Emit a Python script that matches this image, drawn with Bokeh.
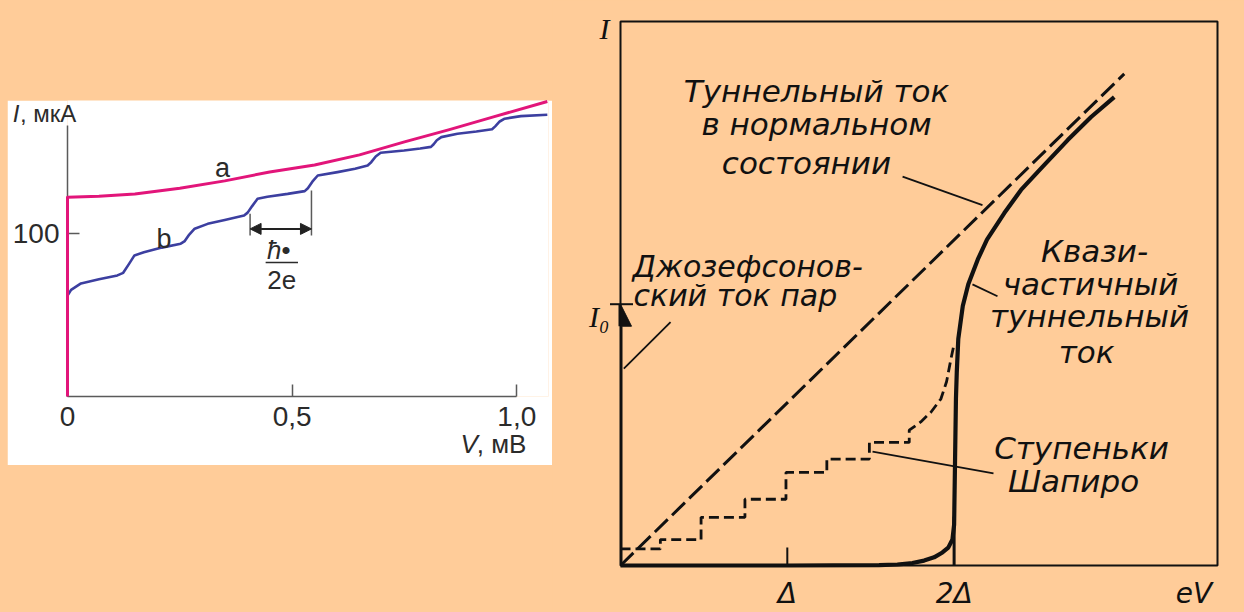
from bokeh.plotting import figure
from bokeh.layouts import row, column
from bokeh.models import (Spacer, Arrow, NormalHead, FixedTicker,
                          GlobalInlineStyleSheet, Range1d)
from bokeh.core.properties import value
from bokeh.embed import file_html
from bokeh.resources import INLINE

PEACH = "#FFCC99"
PINK = "#E2157A"
BLUE = "#3C3FA0"
GRAY = "#5a5a5a"
TXT = "#2b2b2b"
INK = "#111111"

# ---------------- left panel data (V in mV, I in uA) ----------------
A_V = [0.0, 0.0, 0.07, 0.15, 0.25, 0.35, 0.45, 0.55, 0.65, 0.75, 0.85, 0.95, 1.068]
A_I = [0.0, 122.5, 123.0, 124.5, 128.0, 132.5, 138.0, 142.3, 148.5, 156.5, 164.0, 172.0, 181.3]

B_V = [0.0, 0.008, 0.03, 0.07, 0.111, 0.124, 0.137, 0.149, 0.17, 0.21,
       0.252, 0.261, 0.271, 0.283, 0.312, 0.35, 0.393, 0.401, 0.411, 0.423,
       0.445, 0.49, 0.528, 0.535, 0.545, 0.557, 0.601, 0.64, 0.668, 0.676,
       0.686, 0.697, 0.749, 0.785, 0.809, 0.815, 0.822, 0.832, 0.868, 0.91,
       0.945, 0.952, 0.962, 0.973, 1.009, 1.068]
B_I = [62.0, 65.5, 69.5, 72.0, 74.4, 76.0, 81.5, 86.7, 88.7, 91.5,
       93.9, 95.5, 99.5, 103.1, 106.1, 108.5, 111.2, 113.0, 117.0, 121.5,
       122.8, 124.5, 126.2, 128.0, 132.0, 135.8, 137.9, 140.0, 142.0, 144.0,
       147.5, 149.8, 151.2, 152.4, 153.4, 155.0, 157.5, 159.4, 161.5, 162.8,
       164.2, 166.0, 169.0, 170.7, 172.3, 173.1]

X1_TICKS = [0, 0.5, 1]
X1_LABELS = ["0", "0,5", "1,0"]
Y1_TICKS = [100]
Y1_LABELS = ["100"]

# step-width marker (one Shapiro step, h/2e)
STEP_V = [0.4064, 0.543]
STEP_TOP = [112.3, 126.6]
STEP_BOTTOM = 99.0
STEP_ARROW_I = 103.0

# ---------------- right panel data (eV in units of Delta) ----------------
NORM_V = [0.0, 3.02]
NORM_I = [0.0, 3.02]

QP_V = [0.0, 1.0, 1.55, 1.66, 1.75, 1.82, 1.88, 1.93, 1.965, 1.99, 2.0, 2.005,
        2.011, 2.016, 2.025, 2.052, 2.085, 2.142, 2.197, 2.301, 2.401, 2.531,
        2.681, 2.821, 2.96]
QP_I = [0.0, 0.0, 0.002, 0.006, 0.015, 0.03, 0.05, 0.08, 0.11, 0.16, 0.25, 0.6,
        1.024, 1.188, 1.391, 1.594, 1.727, 1.88, 2.002, 2.165, 2.307, 2.45,
        2.613, 2.755, 2.877]
GAP_V = [2.0, 2.0]
GAP_I = [0.0, 0.3]

SH_V = [0.0, 0.239, 0.239, 0.483, 0.483, 0.746, 0.746, 0.992, 0.992, 1.237,
        1.237, 1.492, 1.492, 1.731, 1.731, 1.80, 1.862, 1.921, 1.955, 1.981, 2.0]
SH_I = [0.102, 0.102, 0.159, 0.159, 0.296, 0.296, 0.407, 0.407, 0.572, 0.572,
        0.654, 0.654, 0.756, 0.756, 0.831, 0.882, 0.943, 1.024, 1.13, 1.269, 1.36]

I0 = 1.605

X2_TICKS = [1, 2, 3.438]
X2_LABELS = ["Δ", "2Δ", "eV"]
Y2_TICKS = [1.53, 3.30]
Y2_LABELS = ["I₀", "I"]

NOTE_NORMAL = ["Туннельный  ток", "в нормальном", "состоянии"]
NOTE_JOS = ["Джозефсонов-", "ский ток пар"]
NOTE_QP = ["Квази-", "частичный", "туннельный", "ток"]
NOTE_SH = ["Ступеньки", "Шапиро"]


def txt(p, xs, ys, texts, size, align="left", style="normal", font="Liberation Sans",
        color=TXT):
    px = int(size.replace("px", ""))
    r = p.text(x=xs, y=ys, text=texts, text_font=value(font), text_font_size=size,
               text_font_style=style, text_color=color, text_align=align,
               text_baseline="alphabetic", y_offset=-round(0.3 * px))
    r.level = "overlay"
    return r


# ======================= left figure =======================
p1 = figure(width=545, height=365, x_range=Range1d(0, 1.0706), y_range=Range1d(0, 181.9),
            output_backend="svg", toolbar_location=None,
            min_border_left=60, min_border_right=4, min_border_top=0, min_border_bottom=69)
p1.background_fill_color = "white"
p1.border_fill_color = "white"
p1.outline_line_color = None
p1.grid.visible = False

xa = p1.xaxis[0]
xa.ticker = FixedTicker(ticks=X1_TICKS)
xa.major_label_overrides = dict(zip(X1_TICKS, X1_LABELS))
xa.bounds = (0, 1)
ya = p1.yaxis[0]
ya.ticker = FixedTicker(ticks=Y1_TICKS)
ya.major_label_overrides = dict(zip(Y1_TICKS, Y1_LABELS))
ya.bounds = (0, 166.5)
for ax in (xa, ya):
    ax.major_tick_in = 12
    ax.major_tick_out = 0
    ax.minor_tick_line_color = None
    ax.axis_line_color = GRAY
    ax.axis_line_width = 1.5
    ax.major_tick_line_color = GRAY
    ax.major_tick_line_width = 1.5
    ax.major_label_text_font = "Liberation Sans"
    ax.major_label_text_font_size = "28px"
    ax.major_label_text_color = TXT
xa.major_label_standoff = 10
ya.major_label_standoff = 8

rb = p1.line(B_V, B_I, line_color=BLUE, line_width=2.6, line_join="round")
ra = p1.line(A_V, A_I, line_color=PINK, line_width=3, line_join="round")
rb.level = "overlay"
ra.level = "overlay"

p1.segment(x0=STEP_V, y0=[STEP_BOTTOM] * 2, x1=STEP_V, y1=STEP_TOP,
           line_color=GRAY, line_width=1.5)
p1.add_layout(Arrow(x_start=STEP_V[0], y_start=STEP_ARROW_I, x_end=STEP_V[1], y_end=STEP_ARROW_I,
                    line_color="#222", line_width=2,
                    start=NormalHead(size=11, fill_color="#222", line_color="#222"),
                    end=NormalHead(size=11, fill_color="#222", line_color="#222")))
p1.segment(x0=[0.441], y0=[82.4], x1=[0.513], y1=[82.4], line_color=TXT, line_width=1.5)

txt(p1, [0.345], [135.8], ["a"], "27px", align="center")
txt(p1, [0.215], [91.6], ["b"], "27px", align="center")
txt(p1, [0.470], [85.4], ["ħ•"], "26px", align="center", style="italic")
txt(p1, [0.477], [66.4], ["2e"], "26px", align="center")
txt(p1, [-0.1217], [169.6], ["I"], "24px", style="italic")
txt(p1, [-0.106], [169.6], [", мкА"], "24px")
txt(p1, [0.875], [-34.4], ["V"], "26px", style="italic")
txt(p1, [0.911], [-34.4], [", мВ"], "26px")

# ======================= right figure =======================
p2 = figure(width=692, height=612, x_range=Range1d(0, 3.579), y_range=Range1d(0, 3.3415),
            output_backend="svg", toolbar_location=None,
            min_border_left=68, min_border_right=27, min_border_top=21, min_border_bottom=44)
p2.background_fill_color = PEACH
p2.border_fill_color = PEACH
p2.outline_line_color = INK
p2.outline_line_width = 2
p2.grid.visible = False

xb = p2.xaxis[0]
xb.ticker = FixedTicker(ticks=X2_TICKS)
xb.major_label_overrides = dict(zip(X2_TICKS, X2_LABELS))
xb.major_label_text_font = "DejaVu Sans"
xb.major_label_text_font_style = "italic"
xb.major_label_text_font_size = "28px"
xb.major_label_standoff = 11
yb = p2.yaxis[0]
yb.ticker = FixedTicker(ticks=Y2_TICKS)
yb.major_label_overrides = dict(zip(Y2_TICKS, Y2_LABELS))
yb.major_label_text_font = "Liberation Serif"
yb.major_label_text_font_style = "italic"
yb.major_label_text_font_size = "30px"
yb.major_label_standoff = 11
for ax in (xb, yb):
    ax.axis_line_color = None
    ax.major_tick_line_color = None
    ax.minor_tick_line_color = None
    ax.major_tick_in = 0
    ax.major_tick_out = 0
    ax.major_label_text_color = INK

# tick marks at Delta and I0
p2.segment(x0=[X2_TICKS[0]], y0=[0], x1=[X2_TICKS[0]], y1=[0.11], line_color=INK, line_width=2)
rt = p2.segment(x0=[-0.063], y0=[I0], x1=[0.075], y1=[I0], line_color=INK, line_width=2)
rt.level = "overlay"

p2.line(NORM_V, NORM_I, line_color=INK, line_width=3, line_dash="18 6")
p2.line(SH_V, SH_I, line_color=INK, line_width=2.8, line_dash="10 5")
p2.line(GAP_V, GAP_I, line_color=INK, line_width=3)
rq = p2.line(QP_V, QP_I, line_color=INK, line_width=4.2, line_join="round")
rq.level = "overlay"

p2.add_layout(Arrow(x_start=0, y_start=0, x_end=0, y_end=I0, line_color=INK, line_width=4,
                    end=NormalHead(size=22, fill_color=INK, line_color=INK)))

# leader lines
p2.segment(x0=[1.691, 0.300, 2.110, 1.511], y0=[2.389, 1.495, 1.727, 0.699],
           x1=[2.170, 0.020, 2.260, 2.236], y1=[2.214, 1.209, 1.654, 0.566],
           line_color=INK, line_width=1.8)

txt(p2, [1.205, 1.175, 1.115], [2.857, 2.655, 2.417], NOTE_NORMAL, "31px",
    align="center", style="italic", font="DejaVu Sans", color=INK)
txt(p2, [0.072, 0.078], [1.782, 1.605], NOTE_JOS, "30px",
    align="left", style="italic", font="DejaVu Sans", color=INK)
txt(p2, [2.842, 2.818, 2.812, 2.794], [1.874, 1.672, 1.476, 1.257], NOTE_QP, "31px",
    align="center", style="italic", font="DejaVu Sans", color=INK)
txt(p2, [2.764, 2.716], [0.668, 0.464], NOTE_SH, "31px",
    align="center", style="italic", font="DejaVu Sans", color=INK)

left = column(Spacer(width=545, height=100), p1)
lay = row(Spacer(width=7, height=10), left, p2)
lay.stylesheets = [GlobalInlineStyleSheet(
    css="html, body { margin: 0; padding: 0; background-color: #FFCC99; overflow: hidden; }")]

open("out.html", "w").write(file_html(lay, INLINE))
